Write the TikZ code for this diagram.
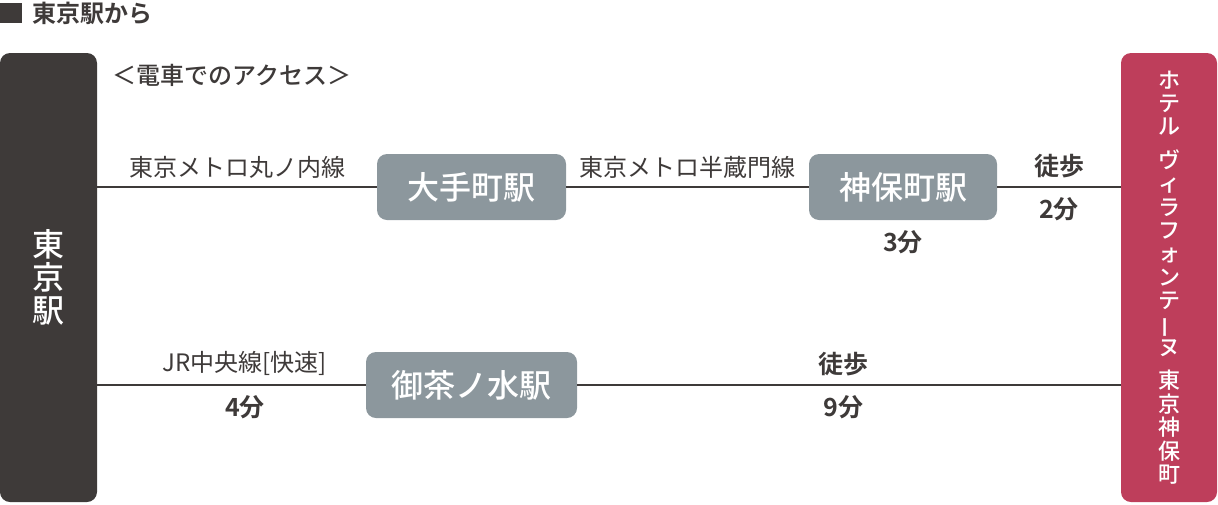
\documentclass[tikz,border=0pt]{standalone}
\usepackage{fontspec,graphicx}
\setmainfont{Noto Sans CJK JP}[BoldFont=* Bold]
\newfontfamily\mediumjp{Noto Sans CJK JP Medium}
\usetikzlibrary{positioning}
\definecolor{ink}{HTML}{3E3A39}
\definecolor{slate}{HTML}{8C979D}
\definecolor{rose}{HTML}{BE3E5B}
\newcommand{\vbar}{\rotatebox[origin=c]{90}{ー}}

\begin{document}
\begin{tikzpicture}[x=0.5pt,y=-0.5pt,every node/.style={font=\fontsize{12pt}{14pt}\selectfont,align=center,text=ink,inner sep=0pt}]
\tikzset{
  terminal/.style={rounded corners=5pt,minimum width=48.5pt,minimum height=224.5pt,text=white},
  station/.style={fill=slate,rounded corners=5pt,minimum height=33pt,text=white,font=\fontsize{16pt}{18pt}\selectfont\mediumjp},
  route/.style={draw=ink,line width=1pt},
  time/.style={font=\fontsize{12.5pt}{14pt}\selectfont\bfseries}
}
\useasboundingbox (0,0) rectangle (1218,504);
% heading
\node[fill=ink,minimum width=11pt,minimum height=10pt,anchor=west] (mark) at (0,13) {};
\node[font=\fontsize{12pt}{14pt}\selectfont\bfseries,right=4.5pt of mark] (title) {東京駅から};
\node[font=\fontsize{12pt}{14pt}\selectfont\mediumjp] (access) at (232,75) {＜電車でのアクセス＞};
% end points
\node[terminal,fill=ink,font=\fontsize{16pt}{16.5pt}\selectfont\mediumjp] (tokyo) at (48.5,277.5) {東\\京\\駅};
\node[terminal,fill=rose,minimum width=48pt,font=\fontsize{11pt}{11.7pt}\selectfont\mediumjp] (hotel) at (1169,277.5)
  {ホ\\テ\\ル\\[5pt]ヴ\\ィ\\ラ\\フ\\ォ\\ン\\テ\\\vbar\\ヌ\\[5pt]東\\京\\神\\保\\町};
% stations
\node[station,minimum width=94.5pt] (ote) at (471.5,187) {大手町駅};
\node[station,minimum width=94pt] (jimbo) at (903,187) {神保町駅};
\node[station,minimum width=105.5pt] (ocha) at (471.5,385) {御茶ノ水駅};
\node[time,below=5pt of jimbo] (t3) {3分};
% routes
\draw[route] (tokyo.east |- ote) -- node[above=4pt] {東京メトロ丸ノ内線} (ote.west);
\draw[route] (ote.east) -- node[above=4pt] {東京メトロ半蔵門線} (jimbo.west);
\draw[route] (jimbo.east) -- node[time,above=4pt] {徒歩} node[time,below=5pt] {2分} (hotel.west |- jimbo);
\draw[route] (tokyo.east |- ocha) -- node[pos=0.55,above=4pt] {JR中央線[快速]} node[time,pos=0.55,below=5pt] {4分} (ocha.west);
\draw[route] (ocha.east) -- node[time,pos=0.49,above=4pt] {徒歩} node[time,pos=0.49,below=5pt] {9分} (hotel.west |- ocha);
\end{tikzpicture}
\end{document}
